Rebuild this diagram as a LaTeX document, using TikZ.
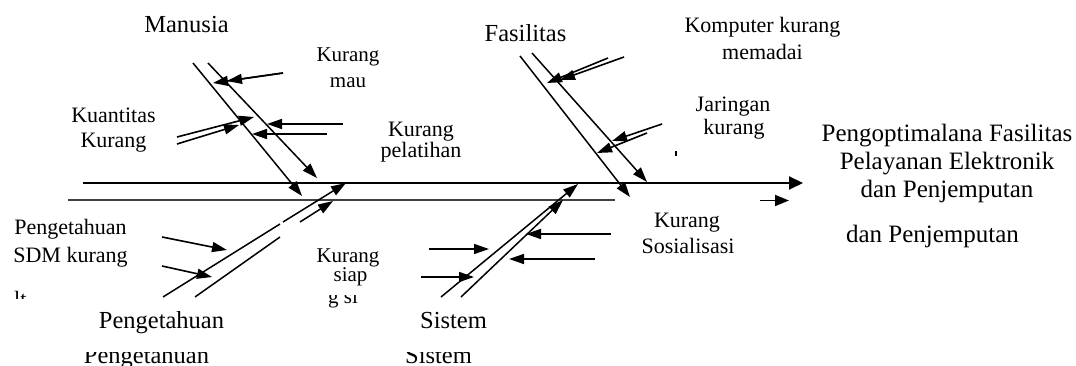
\documentclass[tikz,border=0pt]{standalone}
\usepackage{fontspec}
\setmainfont{Liberation Serif}
\usetikzlibrary{arrows.meta}
\begin{document}
\begin{tikzpicture}[x=1pt,y=-1pt,
  bone/.style={line width=1.5pt},
  arr/.style={line width=1.6pt,-{Triangle[length=15pt,width=10pt]}},
  head/.style={font=\fontsize{24.5}{28}\selectfont,anchor=base,inner sep=0pt},
  lab/.style={font=\fontsize{22}{26}\selectfont,anchor=base,inner sep=0pt},
  labs/.style={font=\fontsize{21}{25}\selectfont,anchor=base,inner sep=0pt},
  eff/.style={font=\fontsize{25}{28}\selectfont,anchor=base,inner sep=0pt},
]
\useasboundingbox (0,0) rectangle (1076,366);

% ---- coordinates ----
\coordinate (sp0) at (83,183);   \coordinate (sp1) at (803,183);
\coordinate (lb0) at (68,200);   \coordinate (lb1) at (615,200);
\coordinate (sa0) at (760,200.5); \coordinate (sa1) at (789,200.5);
% Manusia bones
\coordinate (A0) at (193,63);  \coordinate (A1) at (302,196);
\coordinate (B0) at (208,63);  \coordinate (B1) at (317,178);
\coordinate (km0) at (283,73); \coordinate (km1) at (227,81); \coordinate (km2) at (213,83);
\coordinate (kq0) at (177,137); \coordinate (kq1) at (254,117);
\coordinate (kq2) at (177,144); \coordinate (kq3) at (239,125);
\coordinate (kp0) at (343,124); \coordinate (kp1) at (267,124);
\coordinate (kp2) at (327,134); \coordinate (kp3) at (252,134);
% Fasilitas bones
\coordinate (G0) at (520,56);  \coordinate (G1) at (630,197);
\coordinate (H0) at (532,53);  \coordinate (H1) at (647,182);
\coordinate (ko0) at (624,57); \coordinate (ko1) at (560,80);
\coordinate (ko2) at (608,58); \coordinate (ko3) at (547,83);
\coordinate (ja0) at (662,124); \coordinate (ja1) at (612,141);
\coordinate (ja2) at (647,133); \coordinate (ja3) at (597,153);
% Pengetahuan bones
\coordinate (C0) at (163,297); \coordinate (C1) at (280,224);
\coordinate (C2) at (283,222); \coordinate (C3) at (346,183);
\coordinate (D0) at (195,297); \coordinate (D1) at (280,237);
\coordinate (D2) at (300,222); \coordinate (D3) at (333,201);
\coordinate (ps0) at (162,237); \coordinate (ps1) at (227,250);
\coordinate (ps2) at (162,266); \coordinate (ps3) at (212,277);
% Sistem bones
\coordinate (E0) at (441,297); \coordinate (E1) at (578,184);
\coordinate (F0) at (461,297); \coordinate (F1) at (563,200);
\coordinate (si0) at (429,249); \coordinate (si1) at (489,249);
\coordinate (si2) at (421,277); \coordinate (si3) at (474,277);
\coordinate (so0) at (611,234); \coordinate (so1) at (526,234);
\coordinate (so2) at (595,259); \coordinate (so3) at (509,259);

% ---- lines ----
\draw[line width=2pt,-{Triangle[length=14pt,width=13pt]}] (sp0) -- (sp1);
\draw[line width=1.3pt,black!75] (lb0) -- (lb1);
\draw[line width=1.8pt,-{Triangle[length=14pt,width=11pt]}] (sa0) -- (sa1);

\draw[bone,-{Triangle[length=15pt,width=10pt]}] (A0) -- (A1);
\draw[bone,-{Triangle[length=15pt,width=10pt]}] (B0) -- (B1);
\draw[arr] (km0) -- (km2);
\draw[arr] (km0) -- (km1);
\draw[arr] (kq0) -- (kq1);
\draw[arr] (kq2) -- (kq3);
\draw[arr] (kp0) -- (kp1);
\draw[arr] (kp2) -- (kp3);

\draw[bone,-{Triangle[length=15pt,width=10pt]}] (G0) -- (G1);
\draw[bone,-{Triangle[length=15pt,width=10pt]}] (H0) -- (H1);
\draw[arr] (ko0) -- (ko1);
\draw[arr] (ko2) -- (ko3);
\draw[arr] (ja0) -- (ja1);
\draw[arr] (ja2) -- (ja3);

\draw[bone] (C0) -- (C1);
\draw[bone,-{Triangle[length=15pt,width=10pt]}] (C2) -- (C3);
\draw[bone] (D0) -- (D1);
\draw[bone,-{Triangle[length=15pt,width=10pt]}] (D2) -- (D3);
\draw[arr] (ps0) -- (ps1);
\draw[arr] (ps2) -- (ps3);

\draw[bone,-{Triangle[length=15pt,width=10pt]}] (E0) -- (E1);
\draw[bone,-{Triangle[length=15pt,width=10pt]}] (F0) -- (F1);
\draw[arr] (si0) -- (si1);
\draw[arr] (si2) -- (si3);
\draw[arr] (so0) -- (so1);
\draw[arr] (so2) -- (so3);

% tiny mark
\fill (674.5,151) rectangle (676.5,156);

% ---- texts ----
\node[head] (tman) at (186.5,33) {Manusia};
\node[head] (tfas) at (525.5,42) {Fasilitas};
\node[head] (tpen) at (161.5,328) {Pengetahuan};
\node[head] (tsis) at (453.5,328) {Sistem};

\node[labs] (tkm1) at (348,62) {Kurang};
\node[labs] (tkm2) at (348,88) {mau};
\node[lab] (tkq1) at (113.5,123) {Kuantitas};
\node[lab] (tkq2) at (113.5,148) {Kurang};
\node[lab] (tkp1) at (421,137) {Kurang};
\node[lab] (tkp2) at (421,158) {pelatihan};
\node[lab] (tko1) at (762.5,33) {Komputer kurang};
\node[lab] (tko2) at (762.5,60) {memadai};
\node[lab] (tja1) at (733,112) {Jaringan};
\node[lab] (tja2) at (734,135) {kurang};
\node[lab] (tps1) at (70.5,235) {Pengetahuan};
\node[lab] (tps2) at (70.5,262) {SDM kurang};
\node[labs] (tks1) at (348,262) {Kurang};
\node[labs] (tks2) at (350.5,281) {siap};
\node[lab] (tso1) at (687,228) {Kurang};
\node[lab] (tso2) at (688,254) {Sosialisasi};

\node[eff] (te1) at (947,142) {Pengoptimalana Fasilitas};
\node[eff] (te2) at (947,170) {Pelayanan Elektronik};
\node[eff] (te3) at (947,198) {dan Penjemputan};
\node[eff] (te4) at (932.5,243) {dan Penjemputan};

% clipped fragments
\begin{scope}
  \clip (60,352) rectangle (240,366);
  \node[head] (tpend) at (146.5,363) {Pengetahuan};
\end{scope}
\begin{scope}
  \clip (390,352) rectangle (490,366);
  \node[head] (tsisd) at (438.5,363) {Sistem};
\end{scope}
\begin{scope}
  \clip (326,295.5) rectangle (362,312);
  \node[labs,anchor=base west] (tgsi) at (328,303) {g si};
\end{scope}
\begin{scope}
  \clip (10,288) rectangle (34,298.5);
  \node[lab,anchor=base west] (tlt) at (14,306) {lt};
\end{scope}
\end{tikzpicture}
\end{document}
